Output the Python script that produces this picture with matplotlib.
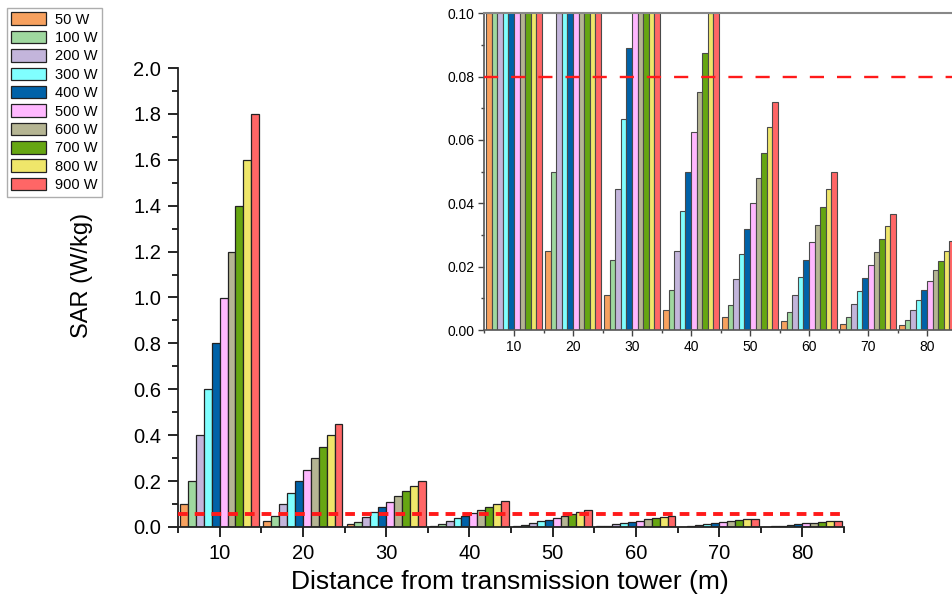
import numpy as np
import matplotlib
matplotlib.use('Agg')
import matplotlib.pyplot as plt
from matplotlib.ticker import MultipleLocator

plt.rcParams['font.family'] = ['Liberation Sans', 'DejaVu Sans']

# distances (m) and SAR values (W/kg), one list per power
distances = [10, 20, 30, 40, 50, 60, 70, 80]
powers = ['50 W', '100 W', '200 W', '300 W', '400 W',
          '500 W', '600 W', '700 W', '800 W', '900 W']

sar_50 = [0.10, 0.025, 0.0111, 0.0063, 0.0040, 0.0028, 0.0020, 0.0016]
sar_100 = [0.20, 0.050, 0.0222, 0.0125, 0.0080, 0.0056, 0.0041, 0.0031]
sar_200 = [0.40, 0.100, 0.0444, 0.0250, 0.0160, 0.0111, 0.0082, 0.0063]
sar_300 = [0.60, 0.150, 0.0667, 0.0375, 0.0240, 0.0167, 0.0122, 0.0094]
sar_400 = [0.80, 0.200, 0.0889, 0.0500, 0.0320, 0.0222, 0.0163, 0.0125]
sar_500 = [1.00, 0.250, 0.1111, 0.0625, 0.0400, 0.0278, 0.0204, 0.0156]
sar_600 = [1.20, 0.300, 0.1333, 0.0750, 0.0480, 0.0333, 0.0245, 0.0188]
sar_700 = [1.40, 0.350, 0.1556, 0.0875, 0.0560, 0.0389, 0.0286, 0.0219]
sar_800 = [1.60, 0.400, 0.1778, 0.1000, 0.0640, 0.0444, 0.0327, 0.0250]
sar_900 = [1.80, 0.450, 0.2000, 0.1125, 0.0720, 0.0500, 0.0367, 0.0281]

series = [sar_50, sar_100, sar_200, sar_300, sar_400,
          sar_500, sar_600, sar_700, sar_800, sar_900]

colors = ['#F7A15F', '#9FD89F', '#C3B5DB', '#80FFFF', '#0062A8',
          '#FFB8FF', '#B5B593', '#66A612', '#EFE66A', '#FF6666']

limit_main = 0.058
limit_inset = 0.08

fig = plt.figure(figsize=(9.52, 6.04), dpi=100)
ax = fig.add_axes([178 / 952, 1 - 527 / 604, 666 / 952, 459 / 604])

x = np.array(distances, dtype=float)
w = 0.95
handles = []
for i, (vals, c) in enumerate(zip(series, colors)):
    b = ax.bar(x + (i - 4.5) * w, vals, width=w, color=c,
               edgecolor='#222222', linewidth=0.9, label=powers[i])
    handles.append(b)

ax.axhline(limit_main, color='#FF1A1A', lw=2.8, dashes=(2.5, 1.8), zorder=5)

ax.set_xlim(5, 85)
ax.set_ylim(0, 2.0)
ax.set_xticks(distances)
ax.set_xticks(np.arange(5, 86, 10), minor=True)
ax.yaxis.set_major_locator(MultipleLocator(0.2))
ax.yaxis.set_minor_locator(MultipleLocator(0.1))
ax.yaxis.set_major_formatter(matplotlib.ticker.FormatStrFormatter('%.1f'))
ax.tick_params(which='major', direction='out', length=7, width=1.2,
               labelsize=14.5, pad=5)
ax.tick_params(which='minor', direction='out', length=4, width=1.2)
for s in ['top', 'right']:
    ax.spines[s].set_visible(False)
for s in ['left', 'bottom']:
    ax.spines[s].set_linewidth(1.3)
    ax.spines[s].set_color('#222222')

ax.set_xlabel('Distance from transmission tower (m)', fontsize=19)
ax.set_ylabel('SAR (W/kg)', fontsize=17)
ax.xaxis.set_label_coords(0.498, -0.093)
ax.yaxis.set_label_coords(-0.127, 0.549)

# inset zoom on the low values
ins = fig.add_axes([484.5 / 952, 1 - 330 / 604, 472 / 952, 316.7 / 604])
for i, (vals, c) in enumerate(zip(series, colors)):
    ins.bar(x + (i - 4.5) * w, vals, width=w, color=c,
            edgecolor='#4a4a4a', linewidth=0.8)
ins.axhline(limit_inset, color='#FF1A1A', lw=1.7, dashes=(6, 5.5), zorder=5)
ins.set_xlim(5, 85)
ins.set_ylim(0, 0.10)
ins.set_xticks(distances)
ins.set_xticks(np.arange(5, 86, 10), minor=True)
ins.yaxis.set_major_locator(MultipleLocator(0.02))
ins.yaxis.set_minor_locator(MultipleLocator(0.01))
ins.yaxis.set_major_formatter(matplotlib.ticker.FormatStrFormatter('%.2f'))
ins.tick_params(which='major', direction='out', length=4, width=1.0,
                labelsize=10, pad=3, color='#444444')
ins.tick_params(which='minor', direction='out', length=2.5, width=1.0,
                color='#444444')
for s in ['left', 'bottom']:
    ins.spines[s].set_color('#555555')
    ins.spines[s].set_linewidth(1.2)
ins.spines['top'].set_color('#888888')
ins.spines['top'].set_linewidth(1.5)
ins.spines['right'].set_visible(False)

leg = fig.legend(handles=handles, loc='upper left',
                 bbox_to_anchor=(7 / 952, 1 - 8 / 604), fontsize=10.5,
                 frameon=True, fancybox=False, edgecolor='#999999',
                 handlelength=2.4, handleheight=0.95, labelspacing=0.28,
                 borderpad=0.3, borderaxespad=0, handletextpad=0.6)
leg.get_frame().set_linewidth(1.0)

fig.savefig('out.png', dpi=100)
